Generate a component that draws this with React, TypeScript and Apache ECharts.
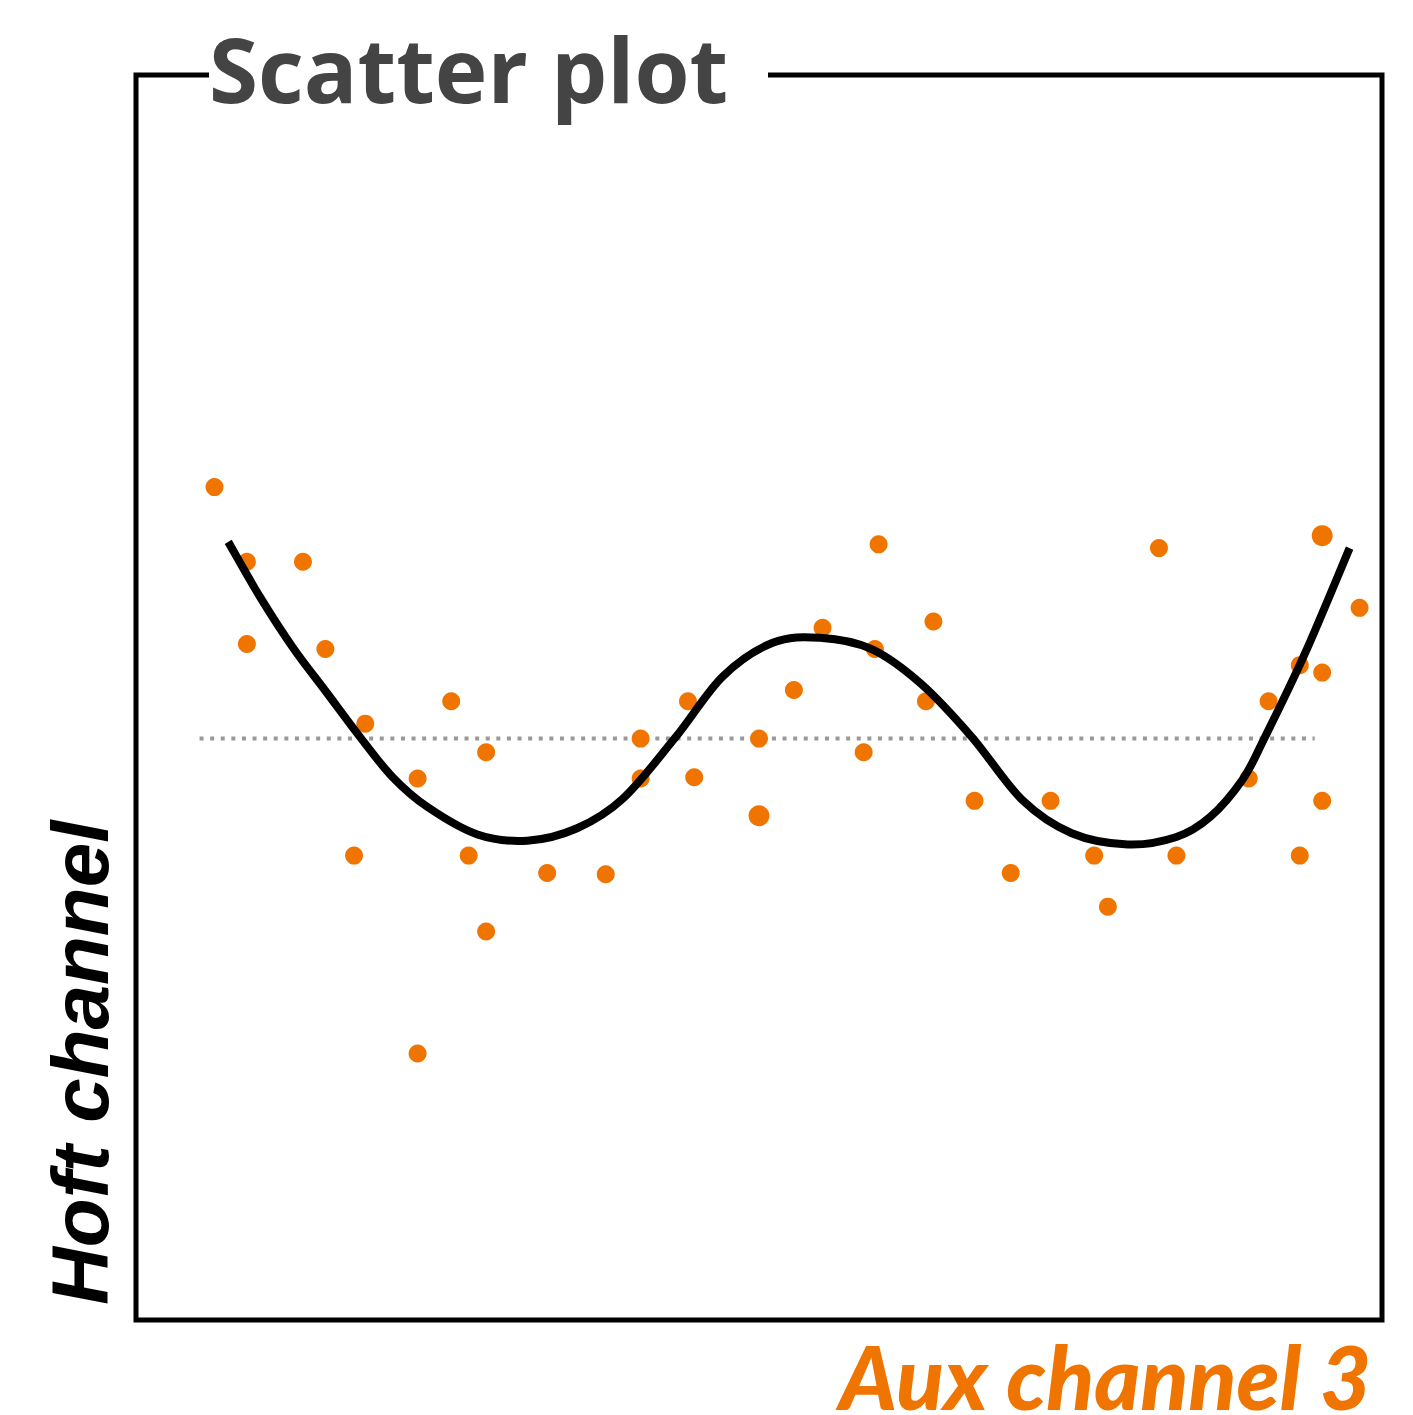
import React, { useEffect, useRef } from "react";
import * as echarts from "echarts";

const ORANGE = "#F07400";

// scatter points (axis units 0..100)
const pointsX = [6.3, 8.9, 13.4, 8.9, 15.2, 18.4, 25.3, 28.1, 22.6, 17.5, 26.7, 28.1, 22.6, 33.0, 37.7, 40.5, 40.5, 44.3, 44.8, 50.0, 52.8, 55.1, 59.6, 59.3, 58.4, 64.0, 63.4, 67.3, 70.2, 73.4, 76.9, 78.0, 82.1, 83.5, 89.3, 90.9, 93.4, 95.2, 98.2, 95.2, 93.4];
const pointsY = [66.9, 60.9, 60.9, 54.3, 53.9, 47.9, 49.7, 45.6, 43.5, 37.3, 37.3, 31.2, 21.4, 35.9, 35.8, 46.7, 43.5, 49.7, 43.6, 46.7, 50.6, 55.6, 62.3, 53.9, 45.6, 56.1, 49.7, 41.7, 35.9, 41.7, 37.3, 33.2, 62.0, 37.3, 43.5, 49.7, 52.6, 52.0, 57.2, 41.7, 37.3];
// larger points
const bigX = [50.0, 95.2];
const bigY = [40.5, 63.0];

// fitted curve
const curveX = [7.4, 10.0, 12.6, 15.3, 18.0, 20.6, 23.4, 27.4, 31.4, 35.4, 39.1, 43.3, 47.1, 51.1, 54.9, 59.0, 63.0, 67.1, 71.1, 75.1, 79.6, 83.5, 86.2, 88.8, 90.5, 93.8, 97.4];
const curveY = [62.5, 58.0, 54.0, 50.4, 46.8, 43.6, 41.2, 39.0, 38.5, 39.5, 41.9, 46.8, 51.7, 54.4, 54.8, 53.9, 51.1, 46.8, 41.8, 39.1, 38.2, 38.8, 40.4, 43.4, 46.6, 53.5, 62.0];

// reference (mean) line
const refX = [5.1, 94.6];
const refY = [46.7, 46.7];

const TITLE = "Scatter plot";
const X_NAME = "Aux channel 3";
const Y_NAME = "Hoft channel";

function curveRenderItem(params: any, api: any) {
  if (params.dataIndex !== 0) return null;
  const pts = curveX.map((x, i) => api.coord([x, curveY[i]]));
  let d = `M${pts[0][0]},${pts[0][1]}`;
  for (let i = 0; i < pts.length - 1; i++) {
    const p0 = pts[Math.max(0, i - 1)];
    const p1 = pts[i];
    const p2 = pts[i + 1];
    const p3 = pts[Math.min(pts.length - 1, i + 2)];
    const c1x = p1[0] + (p2[0] - p0[0]) / 6;
    const c1y = p1[1] + (p2[1] - p0[1]) / 6;
    const c2x = p2[0] - (p3[0] - p1[0]) / 6;
    const c2y = p2[1] - (p3[1] - p1[1]) / 6;
    d += ` C${c1x},${c1y} ${c2x},${c2y} ${p2[0]},${p2[1]}`;
  }
  return {
    type: "path",
    shape: { pathData: d },
    style: { fill: "none", stroke: "#000", lineWidth: 8 },
  };
}

export default function App() {
  const ref = useRef<HTMLDivElement>(null);
  useEffect(() => {
    const chart = echarts.init(ref.current!, null, { renderer: "svg" });
    chart.setOption({
      animation: false,
      backgroundColor: "#fff",
      grid: {
        left: 136,
        top: 75,
        width: 1246,
        height: 1245,
        show: true,
        borderColor: "#000",
        borderWidth: 5,
        backgroundColor: "transparent",
      },
      xAxis: { type: "value", min: 0, max: 100, show: false },
      yAxis: { type: "value", min: 0, max: 100, show: false },
      series: [
        {
          type: "line",
          data: refX.map((x, i) => [x, refY[i]]),
          symbol: "none",
          lineStyle: { color: "#999", width: 4, type: [4, 6.6] },
          z: 1,
        },
        {
          type: "scatter",
          data: pointsX.map((x, i) => [x, pointsY[i]]),
          symbolSize: 18,
          itemStyle: { color: ORANGE, opacity: 1 },
          z: 2,
        },
        {
          type: "scatter",
          data: bigX.map((x, i) => [x, bigY[i]]),
          symbolSize: 21,
          itemStyle: { color: ORANGE, opacity: 1 },
          z: 2,
        },
        {
          type: "custom",
          data: curveX.map((x, i) => [x, curveY[i]]),
          renderItem: curveRenderItem,
          encode: { x: 0, y: 1 },
          z: 3,
        },
      ],
      graphic: [
        {
          type: "rect",
          shape: { x: 209, y: 60, width: 559, height: 30 },
          style: { fill: "#fff" },
          z: 100,
        },
        {
          type: "text",
          x: 209,
          y: 68,
          style: {
            text: TITLE,
            fill: "#444",
            font: "bold 89px 'Open Sans', Lato, sans-serif",
            textAlign: "left",
            textVerticalAlign: "middle",
          },
          z: 101,
        },
        {
          type: "text",
          x: 80,
          y: 1305,
          rotation: Math.PI / 2,
          style: {
            text: Y_NAME,
            fill: "#000",
            font: "italic bold 80px 'Liberation Sans', Arial, sans-serif",
            textAlign: "left",
            textVerticalAlign: "middle",
          },
          z: 101,
        },
        {
          type: "text",
          x: 1371,
          y: 1376,
          style: {
            text: X_NAME,
            fill: ORANGE,
            font: "italic 900 88px Lato, 'Open Sans', sans-serif",
            lineHeight: 60,
            textAlign: "right",
            textVerticalAlign: "middle",
          },
          z: 101,
        },
      ],
    });
    return () => chart.dispose();
  }, []);
  return (
    <div
      ref={ref}
      style={{ position: "fixed", left: 0, top: 0, width: 1413, height: 1415 }}
    />
  );
}
